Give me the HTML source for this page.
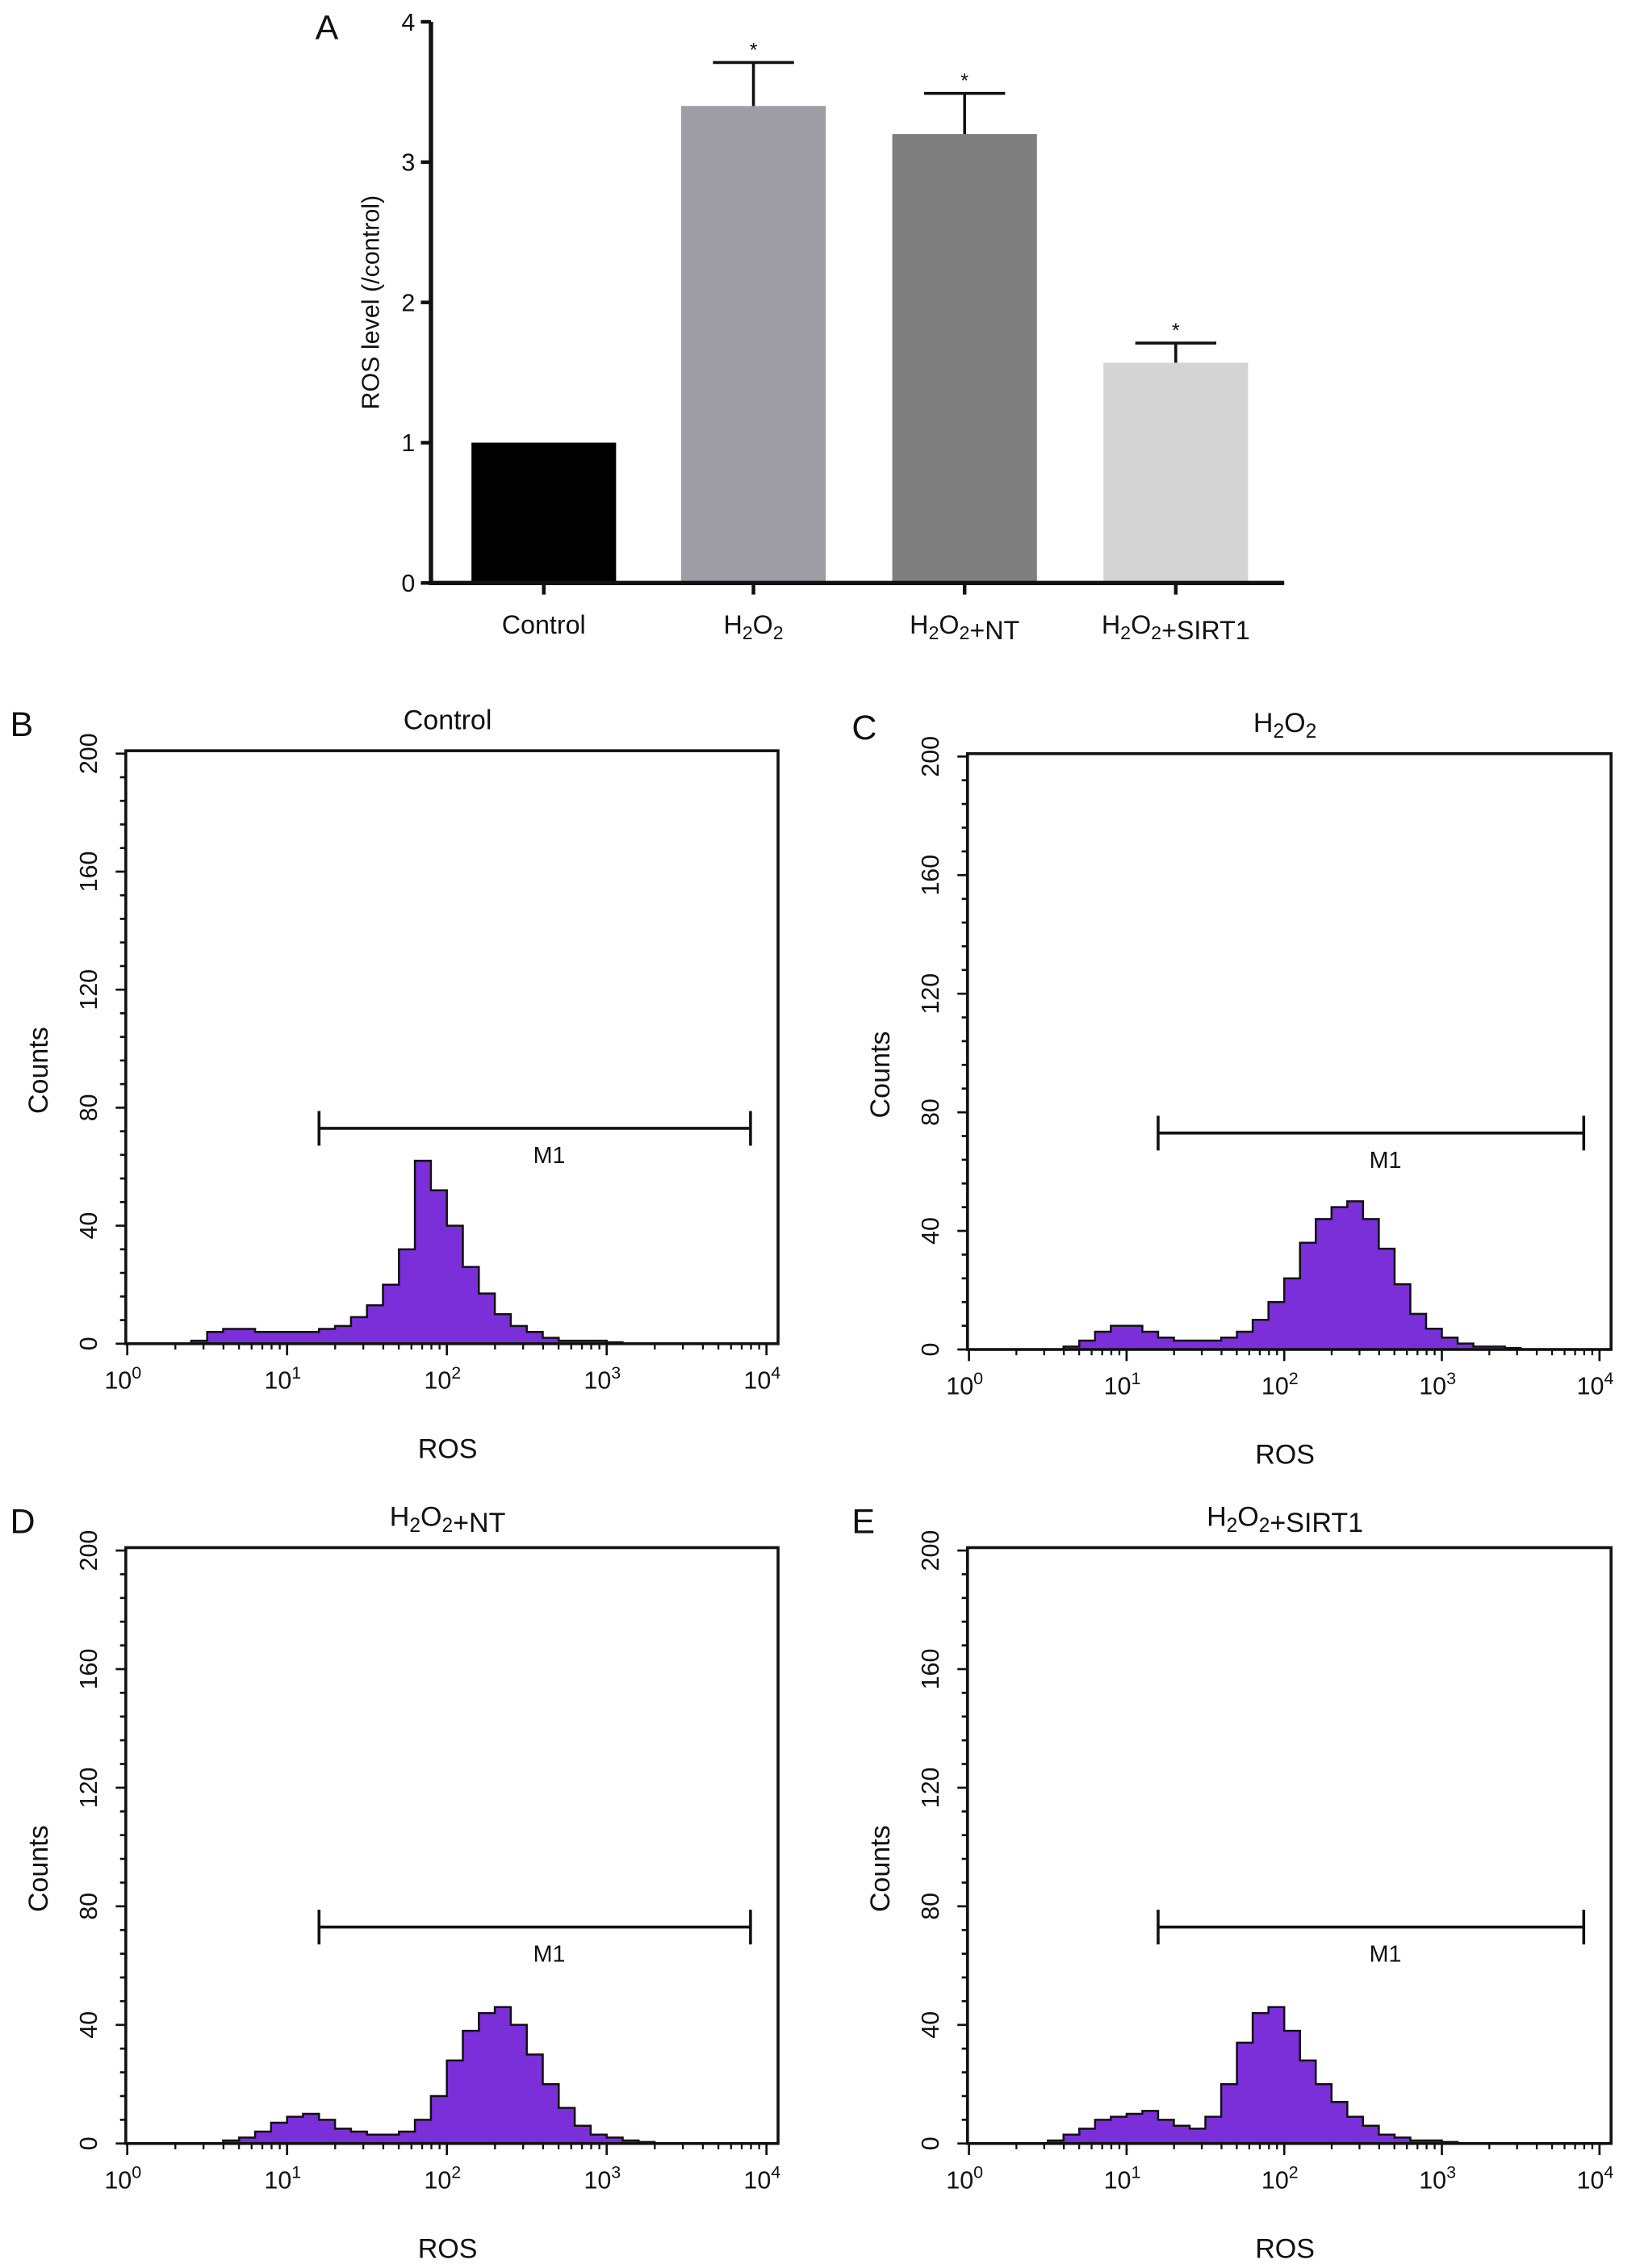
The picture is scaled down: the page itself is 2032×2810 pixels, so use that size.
<!DOCTYPE html>
<html><head><meta charset="utf-8"><style>
html,body{margin:0;padding:0;background:#fff;}
svg{display:block;}
text{font-family:"Liberation Sans",Arial,sans-serif;fill:#111;}
</style></head><body>
<svg id="fig" xmlns="http://www.w3.org/2000/svg" width="2032" height="2810" viewBox="0 0 1134 1568"></svg>
<script>
// Panel A data
const barCats = ["Control","H2O2","H2O2+NT","H2O2+SIRT1"];
const barVals = [1.0, 3.4, 3.2, 1.57];
const barErrs = [0, 0.31, 0.29, 0.14];
const barSig = [false, true, true, true];
const barColors = ["#000000","#9e9da6","#7f7f7f","#d4d4d4"];
const barTicks = [0,1,2,3,4];
// Histogram data: counts per log10 bin of width 0.1 from 10^0 to 10^4
const histControl = [0,0,0,0,1,4,5,5,4,4, 4,4,5,6,9,13,20,32,62,52, 40,26,17,10,6,4,2,1,1,1, 0.5,0,0,0,0,0,0,0,0,0];
const histH2O2 = [0,0,0,0,0,0,1,3,6,8, 8,6,4,3,3,3,4,6,10,16, 24,36,44,48,50,44,34,22,12,7, 4,2,1,1,0.5,0,0,0,0,0];
const histNT = [0,0,0,0,0,0,1,2,4,7, 9,10,8,5,4,3,3,4,8,16, 28,38,44,46,40,30,20,12,6,3, 2,1,0.5,0,0,0,0,0,0,0];
const histSIRT1 = [0,0,0,0,0,1,3,5,8,9, 10,11,8,6,5,9,20,34,44,46, 38,28,20,14,9,6,3,2,1,1, 0.5,0,0,0,0,0,0,0,0,0];
const countTicks = [0,40,80,120,160,200];
const decadeTicks = [0,1,2,3,4];
const gateRange = [1.2, 3.9];
const gateLevel = 73;

const NS="http://www.w3.org/2000/svg";
const svg=document.getElementById('fig');
function mk(tag,attrs,parent){const e=document.createElementNS(NS,tag);for(const k in attrs)e.setAttribute(k,attrs[k]);(parent||svg).appendChild(e);return e;}
function chem(t,label){
  const parts=label.split(/(H2O2)/);
  parts.forEach(p=>{
    if(p==="H2O2"){
      t.appendChild(document.createTextNode("H"));
      const s1=mk('tspan',{'font-size':'0.72em',dy:'4'},t);s1.textContent="2";
      const o=mk('tspan',{dy:'-4'},t);o.textContent="O";
      const s2=mk('tspan',{'font-size':'0.72em',dy:'4'},t);s2.textContent="2";
      const r=mk('tspan',{dy:'-4'},t);r.textContent="";
    } else if(p){const s=mk('tspan',{},t);s.textContent=p;}
  });
}

// ---------- Panel A ----------
(function(){
  const g=mk('g',{});
  
  
  const x0=298,x1=888,y0=403,yTop=15,vmax=4;
  const ys=v=>y0-(v/vmax)*(y0-yTop);
  const centers=[376,521,667,813], bw=100;
  const letter=mk('text',{x:218,y:27,'font-size':24},g);letter.textContent="A";
  
  barVals.forEach((v,i)=>{
    const r=mk('rect',{x:centers[i]-bw/2,y:ys(v),width:bw,height:y0-ys(v),fill:barColors[i]},g);
    
    
    if(barErrs[i]>0){
      const top=ys(v+barErrs[i]);
      const e=mk('path',{d:`M${centers[i]} ${ys(v)}V${top}M${centers[i]-28} ${top}H${centers[i]+28}`,stroke:'#111','stroke-width':2,fill:'none'},g);
      
      if(barSig[i]){const s=mk('text',{x:centers[i],y:top-4,'font-size':14,'text-anchor':'middle'},g);s.textContent="*";
        }
    }
    const t=mk('text',{x:centers[i],y:438,'font-size':18,'text-anchor':'middle'},g);
    
    chem(t,barCats[i]);
    mk('line',{x1:centers[i],x2:centers[i],y1:y0,y2:y0+8,stroke:'#111','stroke-width':2.5},g);
  });
  const ax=mk('path',{d:`M${x0} ${yTop}V${y0}H${x1}`,stroke:'#111','stroke-width':3,fill:'none'},g);
  
  barTicks.forEach(v=>{
    mk('line',{x1:x0-7,x2:x0,y1:ys(v),y2:ys(v),stroke:'#111','stroke-width':2.5},g);
    const t=mk('text',{x:x0-11,y:ys(v)+6,'font-size':17,'text-anchor':'end'},g);t.textContent=v;
    
  });
  const yl=mk('text',{x:0,y:0,'font-size':17,'text-anchor':'middle',transform:'translate(262,209) rotate(-90)'},g);
  yl.textContent="ROS level (/control)";
  
})();

// ---------- Histograms ----------
function hist(opts){
  const {left,right,top,bottom,letter,title,data,name}=opts;
  const g=mk('g',{});
  
  
  const xa=left+1, dec=(right-8-xa)/4;
  const xs=l=>xa+l*dec;
  const ys=c=>bottom-(c/200)*(bottom-top-2);
  let d=`M${xs(0)} ${ys(0)}`;
  data.forEach((c,i)=>{d+=`V${ys(c)}H${xs((i+1)*0.1)}`;});
  d+=`V${ys(0)}Z`;
  const h=mk('path',{d,fill:'#7b2fd8',stroke:'#111','stroke-width':1.4,'stroke-linejoin':'miter'},g);
  
  const b=mk('rect',{x:left,y:top,width:right-left,height:bottom-top,fill:'none',stroke:'#111','stroke-width':2},g);
  
  for(let c=0;c<=200;c+=8){mk('line',{x1:left-(c%40===0?7:4),x2:left,y1:ys(c),y2:ys(c),stroke:'#111','stroke-width':1.5},g);}
  countTicks.forEach(c=>{
    const t=mk('text',{x:0,y:0,'font-size':17,'text-anchor':'middle',transform:`translate(${left-20},${ys(c)}) rotate(-90)`},g);
    t.textContent=c;
  });
  decadeTicks.forEach(k=>{
    mk('line',{x1:xs(k),x2:xs(k),y1:bottom,y2:bottom+8,stroke:'#111','stroke-width':1.5},g);
    if(k<4)for(let m=2;m<=9;m++){const xx=xs(k+Math.log10(m));mk('line',{x1:xx,x2:xx,y1:bottom,y2:bottom+4,stroke:'#111','stroke-width':1.3},g);}
    const t=mk('text',{x:xs(k)-3,y:bottom+31,'font-size':17,'text-anchor':'middle'},g);
    t.textContent="10";const s=mk('tspan',{'font-size':12,dy:'-7'},t);s.textContent=k;
    
  });
  const gy=ys(gateLevel),gx0=xs(gateRange[0]),gx1=xs(gateRange[1]);
  const gp=mk('path',{d:`M${gx0} ${gy-12}V${gy+12}M${gx0} ${gy}H${gx1}M${gx1} ${gy-12}V${gy+12}`,stroke:'#111','stroke-width':2,fill:'none'},g);
  
  const gl=mk('text',{x:(gx0+gx1)/2+10,y:gy+24,'font-size':16,'text-anchor':'middle'},g);gl.textContent="M1";
  
  const tt=mk('text',{x:(left+right)/2-3,y:top-15,'font-size':19,'text-anchor':'middle'},g);chem(tt,title);
  
  const L=mk('text',{x:left-80,y:top-10,'font-size':24},g);L.textContent=letter;
  
  const xt=mk('text',{x:(left+right)/2-3,y:bottom+79,'font-size':19,'text-anchor':'middle'},g);xt.textContent="ROS";
  
  const yt=mk('text',{x:0,y:0,'font-size':19,'text-anchor':'middle',transform:`translate(${left-54},${(top+bottom)/2+16}) rotate(-90)`},g);yt.textContent="Counts";
  
}
hist({left:87,right:538,top:519,bottom:929,letter:"B",title:"Control",data:histControl,name:'histogram-panel-b'});
hist({left:669,right:1114,top:521,bottom:933,letter:"C",title:"H2O2",data:histH2O2,name:'histogram-panel-c'});
hist({left:87,right:538,top:1070,bottom:1482,letter:"D",title:"H2O2+NT",data:histNT,name:'histogram-panel-d'});
hist({left:669,right:1114,top:1070,bottom:1482,letter:"E",title:"H2O2+SIRT1",data:histSIRT1,name:'histogram-panel-e'});
</script>
</body></html>
